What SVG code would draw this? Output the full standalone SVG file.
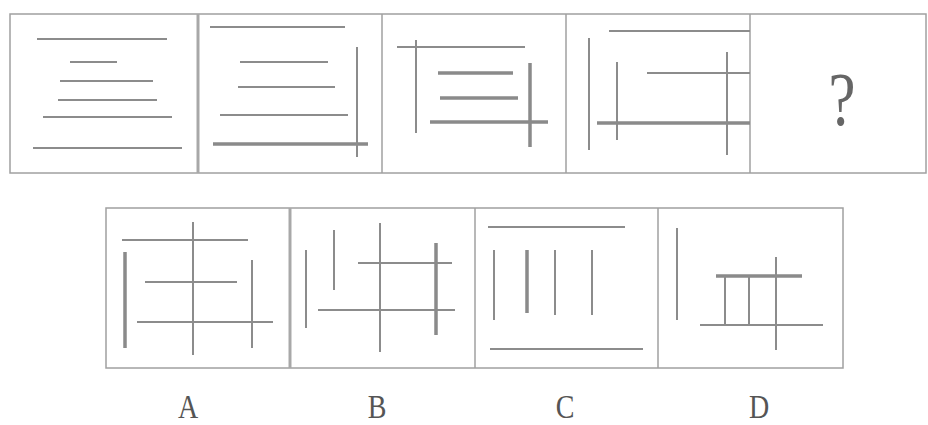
<svg xmlns="http://www.w3.org/2000/svg" width="928" height="425" viewBox="0 0 928 425">
<style>
.frame{fill:none;stroke:#a0a0a0;stroke-width:1.5}
.div{stroke:#a0a0a0;stroke-width:1.5}
.divb{stroke:#a8a8a8;stroke-width:3}
.l{stroke:#8c8c8c;stroke-width:2;stroke-linecap:butt}
.t{stroke:#8a8a8a;stroke-width:3.5}
.lbl{font-family:"Liberation Serif",serif;font-size:33px;fill:#555;text-anchor:middle}
.q{font-family:"Liberation Serif",serif;font-size:76px;fill:#666;text-anchor:middle}
</style>
<rect width="928" height="425" fill="#fff"/>
<g id="top-row">
<rect class="frame" x="10" y="14" width="916" height="159"/>
<line class="divb" x1="198" y1="14" x2="198" y2="173"/>
<line class="div" x1="382" y1="14" x2="382" y2="173"/>
<line class="div" x1="566" y1="14" x2="566" y2="173"/>
<line class="div" x1="750" y1="14" x2="750" y2="173"/>
</g>
<g id="panel1">
<line class="l" x1="37" y1="39" x2="167" y2="39"/>
<line class="l" x1="70" y1="62" x2="117" y2="62"/>
<line class="l" x1="60" y1="81" x2="153" y2="81"/>
<line class="l" x1="58" y1="100" x2="157" y2="100"/>
<line class="l" x1="43" y1="117" x2="172" y2="117"/>
<line class="l" x1="33" y1="148" x2="182" y2="148"/>
</g>
<g id="panel2">
<line class="l" x1="210" y1="27" x2="345" y2="27"/>
<line class="l" x1="240" y1="62" x2="328" y2="62"/>
<line class="l" x1="238" y1="87" x2="335" y2="87"/>
<line class="l" x1="220" y1="115" x2="348" y2="115"/>
<line class="t" x1="213" y1="144" x2="368" y2="144"/>
<line class="l" x1="357" y1="47" x2="357" y2="157"/>
</g>
<g id="panel3">
<line class="l" x1="397" y1="47" x2="525" y2="47"/>
<line class="l" x1="416" y1="40" x2="416" y2="133"/>
<line class="t" x1="438" y1="73" x2="513" y2="73"/>
<line class="t" x1="440" y1="98" x2="518" y2="98"/>
<line class="t" x1="430" y1="122" x2="548" y2="122"/>
<line class="t" x1="530" y1="63" x2="530" y2="147"/>
</g>
<g id="panel4">
<line class="l" x1="609" y1="31" x2="750" y2="31"/>
<line class="l" x1="589" y1="38" x2="589" y2="150"/>
<line class="l" x1="617" y1="62" x2="617" y2="140"/>
<line class="l" x1="647" y1="73" x2="750" y2="73"/>
<line class="t" x1="597" y1="123" x2="750" y2="123"/>
<line class="l" x1="727" y1="52" x2="727" y2="155"/>
</g>
<g id="panel5">
<text class="q" transform="translate(842,125) scale(0.8,1)" x="0" y="0">?</text>
</g>
<g id="bottom-row">
<rect class="frame" x="106" y="208" width="737" height="160"/>
<line class="divb" x1="290" y1="208" x2="290" y2="368"/>
<line class="div" x1="475" y1="208" x2="475" y2="368"/>
<line class="div" x1="658" y1="208" x2="658" y2="368"/>
</g>
<g id="optionA">
<line class="l" x1="122" y1="240" x2="248" y2="240"/>
<line class="l" x1="193" y1="222" x2="193" y2="355"/>
<line class="t" x1="125" y1="252" x2="125" y2="348"/>
<line class="l" x1="145" y1="282" x2="237" y2="282"/>
<line class="l" x1="252" y1="260" x2="252" y2="348"/>
<line class="l" x1="137" y1="322" x2="273" y2="322"/>
</g>
<g id="optionB">
<line class="l" x1="306" y1="250" x2="306" y2="328"/>
<line class="l" x1="334" y1="230" x2="334" y2="290"/>
<line class="l" x1="380" y1="223" x2="380" y2="352"/>
<line class="l" x1="358" y1="263" x2="452" y2="263"/>
<line class="l" x1="318" y1="310" x2="455" y2="310"/>
<line class="t" x1="436" y1="243" x2="436" y2="335"/>
</g>
<g id="optionC">
<line class="l" x1="488" y1="227" x2="625" y2="227"/>
<line class="l" x1="494" y1="250" x2="494" y2="320"/>
<line class="t" x1="527" y1="250" x2="527" y2="313"/>
<line class="l" x1="555" y1="250" x2="555" y2="315"/>
<line class="l" x1="592" y1="250" x2="592" y2="315"/>
<line class="l" x1="490" y1="349" x2="643" y2="349"/>
</g>
<g id="optionD">
<line class="l" x1="677" y1="228" x2="677" y2="320"/>
<line class="t" x1="716" y1="276" x2="802" y2="276"/>
<line class="l" x1="725" y1="276" x2="725" y2="325"/>
<line class="l" x1="749" y1="276" x2="749" y2="325"/>
<line class="l" x1="776" y1="257" x2="776" y2="350"/>
<line class="l" x1="700" y1="325" x2="823" y2="325"/>
</g>
<g id="labels">
<text class="lbl" transform="translate(188,418) scale(0.85,1)">A</text>
<text class="lbl" transform="translate(377,418) scale(0.85,1)">B</text>
<text class="lbl" transform="translate(565,418) scale(0.85,1)">C</text>
<text class="lbl" transform="translate(759,418) scale(0.85,1)">D</text>
</g>
</svg>
